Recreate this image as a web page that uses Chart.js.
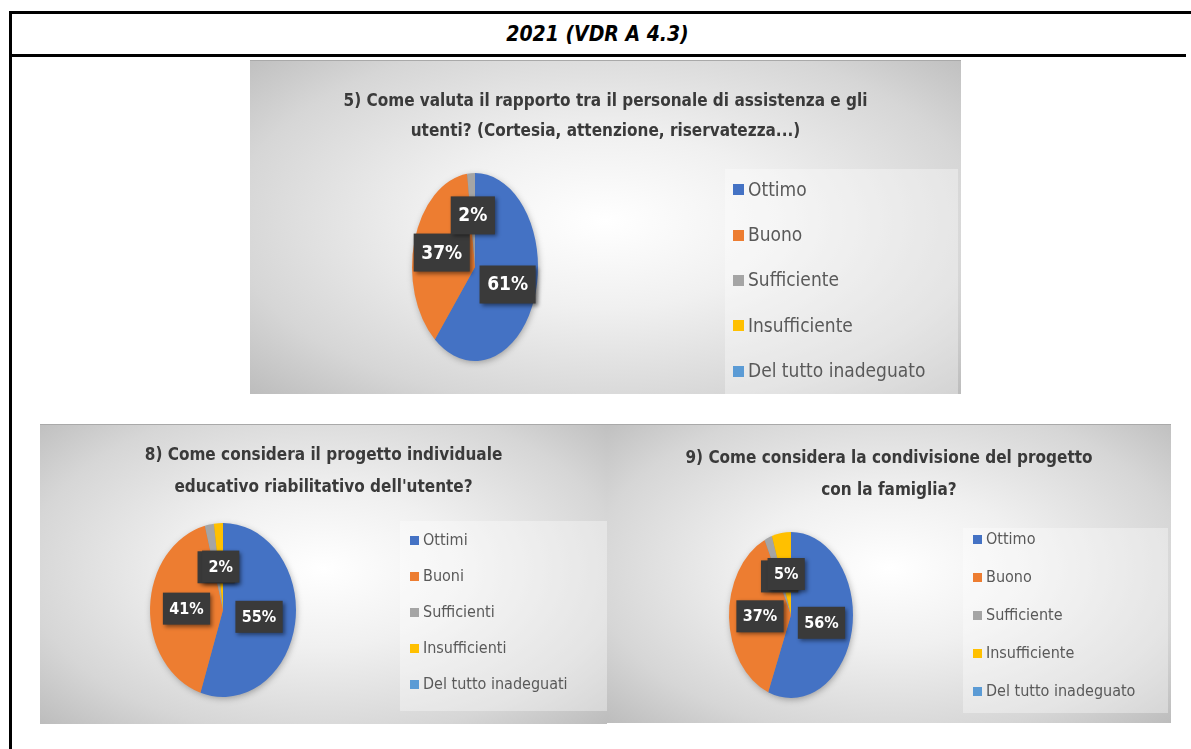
<!DOCTYPE html>
<html>
<head>
<meta charset="utf-8">
<script src="https://cdn.jsdelivr.net/npm/chart.js@4.4.0/dist/chart.umd.min.js"></script>
<style>
html, body { margin: 0; padding: 0; width: 1191px; height: 749px; overflow: hidden; background: #fff; }
body { position: relative; font-family: "Liberation Sans Narrow", "DejaVu Sans Condensed", "Open Sans", sans-serif; }
#frame { position: absolute; left: 9px; top: 11px; width: 1200px; height: 760px; border-left: 3px solid #000; border-top: 3px solid #000; }
#hdr { position: absolute; left: 9px; top: 14px; width: 1177px; height: 40px; border-bottom: 3px solid #000;
       text-align: center; line-height: 40px; font-style: italic; font-weight: bold; font-size: 21px; color: #000; }
.box { position: absolute; border-top: 1px solid #a9a9a9;
       background: radial-gradient(ellipse 70% 75% at 50% 48%, #ffffff 0%, #f0f0f0 35%, #d6d6d6 75%, #bcbcbc 100%); }
.box canvas { position: absolute; left: 0; top: 0; }
.leg { position: absolute; background: rgba(255,255,255,0.35); }
.leg div { position: absolute; white-space: nowrap; color: #595959; }
.leg span { position: absolute; }
</style>
</head>
<body>
<div id="frame"></div>
<div id="hdr">2021 (VDR A 4.3)</div>

<div class="box" id="box5" style="left:250px; top:60px; width:711px; height:333px;">
  <canvas id="c5" width="711" height="333"></canvas>
  <div class="leg" id="leg5" style="left:475px; top:108px; width:233px; height:225px;"></div>
</div>
<div class="box" id="box8" style="left:40px; top:424px; width:567px; height:299px;">
  <canvas id="c8" width="567" height="299"></canvas>
  <div class="leg" id="leg8" style="left:360px; top:96px; width:207px; height:190px;"></div>
</div>
<div class="box" id="box9" style="left:607px; top:424px; width:564px; height:298px;">
  <canvas id="c9" width="564" height="298"></canvas>
  <div class="leg" id="leg9" style="left:356px; top:103px; width:205px; height:185px;"></div>
</div>

<script>
const sliceColors = ['#4472C4', '#ED7D31', '#A5A5A5', '#FFC000', '#5B9BD5'];

const title5 = ['5) Come valuta il rapporto tra il personale di assistenza e gli',
                'utenti? (Cortesia, attenzione, riservatezza...)'];
const labels5 = ['Ottimo', 'Buono', 'Sufficiente', 'Insufficiente', 'Del tutto inadeguato'];
const values5 = [61, 37, 2, 0, 0];

const title8 = ['8) Come considera il progetto individuale',
                "educativo riabilitativo dell'utente?"];
const labels8 = ['Ottimi', 'Buoni', 'Sufficienti', 'Insufficienti', 'Del tutto inadeguati'];
const values8 = [55, 41, 2, 2, 0];

const title9 = ['9) Come considera la condivisione del progetto',
                'con la famiglia?'];
const labels9 = ['Ottimo', 'Buono', 'Sufficiente', 'Insufficiente', 'Del tutto inadeguato'];
const values9 = [56, 37, 2, 5, 0];

const FONT = '"Liberation Sans Narrow", "DejaVu Sans Condensed", "Open Sans", sans-serif';

// draws the pie squeezed into an ellipse, then the dark percentage boxes
const ellipsePie = {
    id: 'ellipsePie',
    beforeDatasetsDraw(chart, args, opts) {
        const arc = chart.getDatasetMeta(0).data[0];
        const ctx = chart.ctx;
        ctx.save();
        ctx.save();
        ctx.shadowColor = 'rgba(0,0,0,0.35)';
        ctx.shadowBlur = 7;
        ctx.shadowOffsetX = 1;
        ctx.shadowOffsetY = 2;
        ctx.beginPath();
        ctx.ellipse(opts.cx, opts.cy, opts.rx - 1, opts.ry - 1, 0, 0, Math.PI * 2);
        ctx.fillStyle = '#8a8a8a';
        ctx.fill();
        ctx.restore();
        ctx.translate(opts.cx, opts.cy);
        ctx.scale(opts.rx / arc.outerRadius, opts.ry / arc.outerRadius);
        ctx.translate(-arc.x, -arc.y);
    },
    afterDatasetsDraw(chart, args, opts) {
        const ctx = chart.ctx;
        ctx.restore();
        const meta = chart.getDatasetMeta(0);
        const values = chart.data.datasets[0].data;
        ctx.save();
        ctx.font = 'bold ' + opts.fontSize + 'px ' + FONT;
        ctx.textAlign = 'center';
        ctx.textBaseline = 'middle';
        meta.data.forEach((arc, i) => {
            if (!values[i]) return;
            const mid = (arc.startAngle + arc.endAngle) / 2;
            const x = opts.cx + Math.cos(mid) * opts.rx * opts.f;
            const y = opts.cy + Math.sin(mid) * opts.ry * opts.f;
            const txt = values[i] + '%';
            const w = ctx.measureText(txt).width + opts.fontSize * 0.8;
            const h = opts.fontSize * 2;
            ctx.save();
            ctx.shadowColor = 'rgba(0,0,0,0.45)';
            ctx.shadowBlur = 4;
            ctx.shadowOffsetX = 2;
            ctx.shadowOffsetY = 2;
            ctx.fillStyle = '#3a3a3a';
            ctx.fillRect(x - w / 2, y - h / 2, w, h);
            ctx.restore();
            ctx.fillStyle = '#ffffff';
            ctx.fillText(txt, x, y + 1);
        });
        ctx.restore();
    }
};

function makePie(canvasId, legendId, title, labels, values, p) {
    const ctx = document.getElementById(canvasId).getContext('2d');
    const chart = new Chart(ctx, {
        type: 'pie',
        data: {
            labels: labels,
            datasets: [{
                data: values,
                backgroundColor: sliceColors,
                borderWidth: 0,
                clip: false
            }]
        },
        options: {
            responsive: false,
            animation: false,
            layout: { padding: { bottom: 10 } },
            plugins: {
                legend: { display: false },
                tooltip: { enabled: false },
                title: {
                    display: true,
                    text: title,
                    color: '#3a3a3a',
                    font: { family: FONT, size: p.titleSize, weight: 'bold', lineHeight: p.titleLine },
                    padding: { top: p.titleTop, bottom: 10 }
                },
                ellipsePie: p.pie
            }
        },
        plugins: [ellipsePie]
    });

    // legend built from the chart's own labels and colours
    const leg = document.getElementById(legendId);
    chart.data.labels.forEach((lab, i) => {
        const row = document.createElement('div');
        row.style.left = p.legX + 'px';
        row.style.top = (p.legY + i * p.legStep - p.legSize * 0.65) + 'px';
        row.style.fontSize = p.legSize + 'px';
        row.style.lineHeight = (p.legSize * 1.3) + 'px';
        row.style.paddingLeft = (p.sq + p.gap) + 'px';
        const sq = document.createElement('span');
        sq.style.left = '0px';
        sq.style.top = ((p.legSize * 1.3 - p.sq) / 2 + 1) + 'px';
        sq.style.width = p.sq + 'px';
        sq.style.height = p.sq + 'px';
        sq.style.background = chart.data.datasets[0].backgroundColor[i];
        row.appendChild(sq);
        row.appendChild(document.createTextNode(lab));
        leg.appendChild(row);
    });
    return chart;
}

makePie('c5', 'leg5', title5, labels5, values5, {
    titleSize: 17, titleLine: 1.8, titleTop: 25,
    pie: { cx: 225, cy: 206, rx: 63, ry: 94, f: 0.55, fontSize: 19 },
    legX: 8, legY: 20, legStep: 45.3, legSize: 19, sq: 11, gap: 4
});
makePie('c8', 'leg8', title8, labels8, values8, {
    titleSize: 17, titleLine: 1.85, titleTop: 15,
    pie: { cx: 183, cy: 185, rx: 73, ry: 87, f: 0.5, fontSize: 16 },
    legX: 10, legY: 19, legStep: 36, legSize: 16, sq: 9, gap: 4
});
makePie('c9', 'leg9', title9, labels9, values9, {
    titleSize: 17, titleLine: 1.85, titleTop: 18,
    pie: { cx: 184, cy: 190, rx: 62, ry: 83, f: 0.5, fontSize: 16 },
    legX: 10, legY: 11, legStep: 38, legSize: 16, sq: 9, gap: 4
});
</script>
</body>
</html>
